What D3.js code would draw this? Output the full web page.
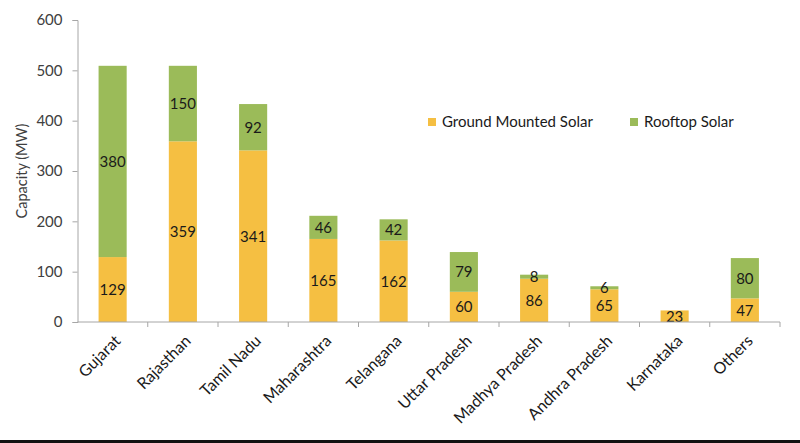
<!DOCTYPE html>
<html>
<head>
<meta charset="utf-8">
<script src="https://cdn.jsdelivr.net/npm/d3@7"></script>
<style>
  body { margin: 0; background: #fff; }
  svg { display: block; }
</style>
</head>
<body>
<div id="chart"></div>
<script>
var states = ["Gujarat", "Rajasthan", "Tamil Nadu", "Maharashtra", "Telangana",
    "Uttar Pradesh", "Madhya Pradesh", "Andhra Pradesh", "Karnataka", "Others"];
var ground = [129, 359, 341, 165, 162, 60, 86, 65, 23, 47];
var rooftop = [380, 150, 92, 46, 42, 79, 8, 6, 0, 80];
var yTicks = [0, 100, 200, 300, 400, 500, 600];
var seriesNames = ["Ground Mounted Solar", "Rooftop Solar"];
var colors = ["#f5bf42", "#9bbb59"];

var width = 800, height = 443;
var font = "Lato, 'Liberation Sans', sans-serif";

var svg = d3.select("#chart")
    .append("svg")
    .attr("width", width)
    .attr("height", height)

var x = d3.scaleBand()
    .domain(states)
    .range([77.5, 780])
    .padding(0)

var y = d3.scaleLinear()
    .domain([0, 600])
    .range([322, 20])

var barW = x.bandwidth() * 0.4;

// stacked bars
var rows = states.map(function (s, i) {
    return { state: s, ground: ground[i], rooftop: rooftop[i] };
});
var stack = d3.stack().keys(["ground", "rooftop"])(rows);

stack.forEach(function (layer, k) {
    svg.append("g")
        .selectAll("rect")
        .data(layer)
        .enter()
        .append("rect")
        .attr("x", function (d) { return x(d.data.state) + (x.bandwidth() - barW) / 2; })
        .attr("y", function (d) { return y(d[1]); })
        .attr("width", barW)
        .attr("height", function (d) { return y(d[0]) - y(d[1]); })
        .attr("fill", colors[k])

    svg.append("g")
        .selectAll("text")
        .data(layer.filter(function (d) { return d[1] - d[0] > 0; }))
        .enter()
        .append("text")
        .attr("x", function (d) { return x(d.data.state) + x.bandwidth() / 2; })
        .attr("y", function (d) { return y((d[0] + d[1]) / 2); })
        .attr("dy", "0.36em")
        .attr("text-anchor", "middle")
        .text(function (d) { return d[1] - d[0]; })
        .style("font-size", "15px")
        .attr("font-family", font)
        .attr("fill", "#1a1a1a")
});

// y axis
var yAxis = svg.append("g")
    .attr("transform", "translate(77.5,0)")
    .call(d3.axisLeft(y).tickValues(yTicks).tickSize(5).tickPadding(10))
yAxis.selectAll("path, line").attr("stroke", "#a6a6a6")
yAxis.selectAll("text")
    .style("font-size", "15px")
    .attr("font-family", font)
    .attr("fill", "#404040")

// x axis with ticks at category boundaries
var xAxis = svg.append("g")
    .attr("transform", "translate(0," + y(0) + ")")
xAxis.append("line")
    .attr("x1", x.range()[0])
    .attr("x2", x.range()[1])
    .attr("stroke", "#a6a6a6")
xAxis.selectAll(".tk")
    .data(states.slice(1).map(function (s) { return x(s); }).concat([x.range()[1]]))
    .enter()
    .append("line")
    .attr("x1", function (d) { return d; })
    .attr("x2", function (d) { return d; })
    .attr("y1", 0)
    .attr("y2", 5)
    .attr("stroke", "#a6a6a6")

xAxis.selectAll(".lbl")
    .data(states)
    .enter()
    .append("text")
    .attr("transform", function (d) {
        return "translate(" + (x(d) + x.bandwidth() / 2 + 5) + ",16) rotate(-45)";
    })
    .attr("text-anchor", "end")
    .attr("dy", "0.35em")
    .text(function (d) { return d; })
    .style("font-size", "16px")
    .attr("font-family", font)
    .attr("fill", "#1a1a1a")

// y title
svg.append("text")
    .attr("transform", "translate(27," + ((y(0) + y(600)) / 2) + ") rotate(-90)")
    .attr("text-anchor", "middle")
    .text("Capacity (MW)")
    .style("font-size", "14.5px")
    .attr("font-family", font)
    .attr("fill", "#404040")

// legend
var legend = svg.append("g").attr("transform", "translate(428,118)")
var lx = [0, 202];
seriesNames.forEach(function (name, i) {
    legend.append("rect")
        .attr("x", lx[i])
        .attr("y", 0)
        .attr("width", 8)
        .attr("height", 8)
        .attr("fill", colors[i])
    legend.append("text")
        .attr("x", lx[i] + 14)
        .attr("y", 4)
        .attr("dy", "0.36em")
        .text(name)
        .style("font-size", "15px")
        .attr("font-family", font)
        .attr("fill", "#1a1a1a")
});

// dark bottom edge of the original screenshot
svg.append("line")
    .attr("x1", 0)
    .attr("x2", width)
    .attr("y1", height - 1.5)
    .attr("y2", height - 1.5)
    .attr("stroke", "#111")
    .attr("stroke-width", 3)
</script>
</body>
</html>
